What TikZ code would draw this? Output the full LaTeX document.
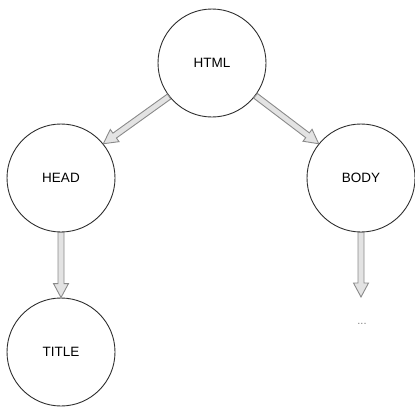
\documentclass[tikz,border=0pt]{standalone}
\usepackage{fontspec}
\setmainfont{Liberation Sans}
\usetikzlibrary{calc}
\definecolor{arrline}{HTML}{8A8A8A}
\definecolor{arrfill}{HTML}{E3E3E3}
\definecolor{circline}{HTML}{2E2E2E}
\tikzset{
  tnode/.style={circle, draw=circline, line width=0.9pt, minimum size=108pt, inner sep=0pt, font=\fontsize{13.5}{16}\selectfont},
  flexarr/.style={draw=arrline, fill=arrfill, line width=0.9pt, line join=miter},
  dotsnode/.style={text=gray, font=\fontsize{11}{13}\selectfont, inner sep=1pt}
}
\newcommand\flexarrow[2]{%
  \coordinate (fa-s) at (#1);
  \coordinate (fa-e) at (#2);
  \coordinate (fa-h) at ($(fa-e)!14pt!(fa-s)$);
  \draw[flexarr] ($(fa-s)!3pt!90:(fa-e)$) -- ($(fa-h)!3pt!-90:(fa-s)$) -- ($(fa-h)!7.5pt!-90:(fa-s)$) -- (fa-e) -- ($(fa-h)!7.5pt!90:(fa-s)$) -- ($(fa-h)!3pt!90:(fa-s)$) -- ($(fa-s)!3pt!-90:(fa-e)$) -- cycle;
}
\begin{document}
\begin{tikzpicture}[x=1pt,y=-1pt]
  \useasboundingbox (0,0) rectangle (415,407);
  \node[tnode] (html) at (212,63) {HTML};
  \node[tnode] (head) at (61,178) {HEAD};
  \node[tnode] (body) at (361,178) {BODY};
  \node[tnode] (title) at (61,352) {TITLE};
  \node[dotsnode] (dots) at (362,324) {...};
  \coordinate (bend) at (361,297);
  \flexarrow{html.218}{head.39}
  \flexarrow{html.-37}{body.141}
  \flexarrow{head.south}{title.north}
  \flexarrow{body.south}{bend}
\end{tikzpicture}
\end{document}
